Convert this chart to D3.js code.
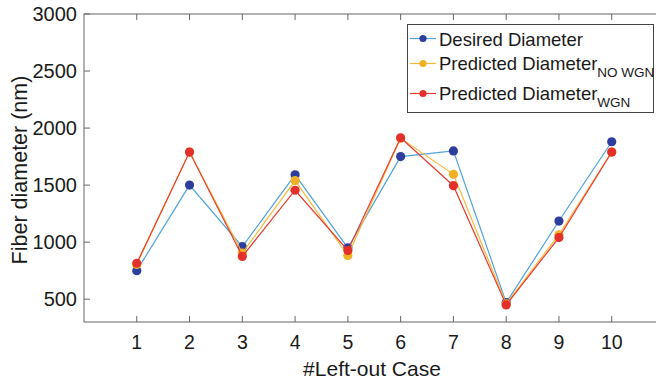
<!DOCTYPE html>
<html lang="en">
<head>
  <meta charset="UTF-8">
  <title>Fiber diameter</title>
  <script src="https://d3js.org/d3.v7.min.js"></script>
  <style>
    html, body { margin: 0; padding: 0; background: #fff; overflow: hidden; }
    svg { font-family: "Liberation Sans", Arial, sans-serif; display: block; }
  </style>
</head>
<body>
<div id="chart"></div>
<script>
  // values
  const cases = [1, 2, 3, 4, 5, 6, 7, 8, 9, 10];
  const desired = [750, 1500, 960, 1590, 950, 1750, 1800, 470, 1185, 1880];
  const predNoWgn = [805, 1790, 905, 1540, 883, 1910, 1595, 460, 1065, 1790];
  const predWgn = [815, 1790, 875, 1455, 927, 1915, 1495, 450, 1040, 1790];
  const yTicks = [500, 1000, 1500, 2000, 2500, 3000];

  const series = [
    { name: "Desired Diameter", sub: "", values: desired, line: "#4fa3dc", dot: "#2c3d9e" },
    { name: "Predicted Diameter", sub: "NO WGN", values: predNoWgn, line: "#f5b93a", dot: "#efb023" },
    { name: "Predicted Diameter", sub: "WGN", values: predWgn, line: "#ec3b30", dot: "#e3302a" }
  ];

  const width = 656, height = 383;
  const plotL = 84, plotT = 14, plotB = 322, plotR = 664.5;
  const axisColor = "#666";

  const svg = d3.select("#chart").append("svg")
    .attr("width", width)
    .attr("height", height);

  const x = d3.scaleLinear().domain([0, 11]).range([plotL, plotR]);
  const y = d3.scaleLinear().domain([300, 3000]).range([plotB, plotT]);

  // axes box (right side falls outside the picture)
  const axG = svg.append("g");
  axG.append("rect")
    .attr("x", plotL).attr("y", plotT)
    .attr("width", plotR - plotL).attr("height", plotB - plotT)
    .attr("fill", "none").attr("stroke", axisColor).attr("stroke-width", 1);

  // inward ticks, bottom and top
  cases.forEach(c => {
    axG.append("line").attr("x1", x(c)).attr("x2", x(c))
      .attr("y1", plotB).attr("y2", plotB - 6).attr("stroke", axisColor);
    axG.append("line").attr("x1", x(c)).attr("x2", x(c))
      .attr("y1", plotT).attr("y2", plotT + 6).attr("stroke", axisColor);
    axG.append("text").attr("x", x(c)).attr("y", 349)
      .attr("text-anchor", "middle").attr("font-size", 19.5).attr("fill", "#1a1a1a")
      .text(c);
  });
  yTicks.forEach(t => {
    axG.append("line").attr("x1", plotL).attr("x2", plotL + 6)
      .attr("y1", y(t)).attr("y2", y(t)).attr("stroke", axisColor);
    axG.append("text").attr("x", 77).attr("y", y(t)).attr("dy", "0.35em")
      .attr("text-anchor", "end").attr("font-size", 20).attr("fill", "#1a1a1a")
      .text(t);
  });

  // axis titles
  svg.append("text").attr("x", 372).attr("y", 376)
    .attr("text-anchor", "middle").attr("font-size", 21).attr("fill", "#1a1a1a")
    .text("#Left-out Case");
  svg.append("text")
    .attr("transform", `translate(27,${(plotT + plotB) / 2 + 2}) rotate(-90)`)
    .attr("text-anchor", "middle").attr("font-size", 21.5).attr("fill", "#1a1a1a")
    .text("Fiber diameter (nm)");

  // lines and markers
  const line = d3.line().x((d, i) => x(cases[i])).y(d => y(d));
  series.forEach(s => {
    const g = svg.append("g");
    g.append("path").attr("d", line(s.values))
      .attr("fill", "none").attr("stroke", s.line).attr("stroke-width", 1.2);
    g.selectAll("circle").data(s.values).join("circle")
      .attr("cx", (d, i) => x(cases[i])).attr("cy", d => y(d))
      .attr("r", 4.6).attr("fill", s.dot);
  });

  // legend
  const lg = svg.append("g");
  lg.append("rect").attr("x", 407.5).attr("y", 24.5).attr("width", 246).attr("height", 88)
    .attr("fill", "#fff").attr("stroke", "#444").attr("stroke-width", 1);
  const rowY = [38.5, 63.5, 93.5];
  const baseY = [46, 70, 100];
  series.forEach((s, i) => {
    lg.append("line").attr("x1", 410).attr("x2", 436)
      .attr("y1", rowY[i]).attr("y2", rowY[i]).attr("stroke", s.line).attr("stroke-width", 1.2);
    lg.append("circle").attr("cx", 423).attr("cy", rowY[i]).attr("r", 3.6).attr("fill", s.dot);
    const t = lg.append("text").attr("x", 439).attr("y", baseY[i])
      .attr("font-size", 18.5).attr("fill", "#1a1a1a").text(s.name);
    if (s.sub) {
      t.append("tspan").attr("dy", 7).attr("font-size", 13.5).text(s.sub);
    }
  });
</script>
</body>
</html>
